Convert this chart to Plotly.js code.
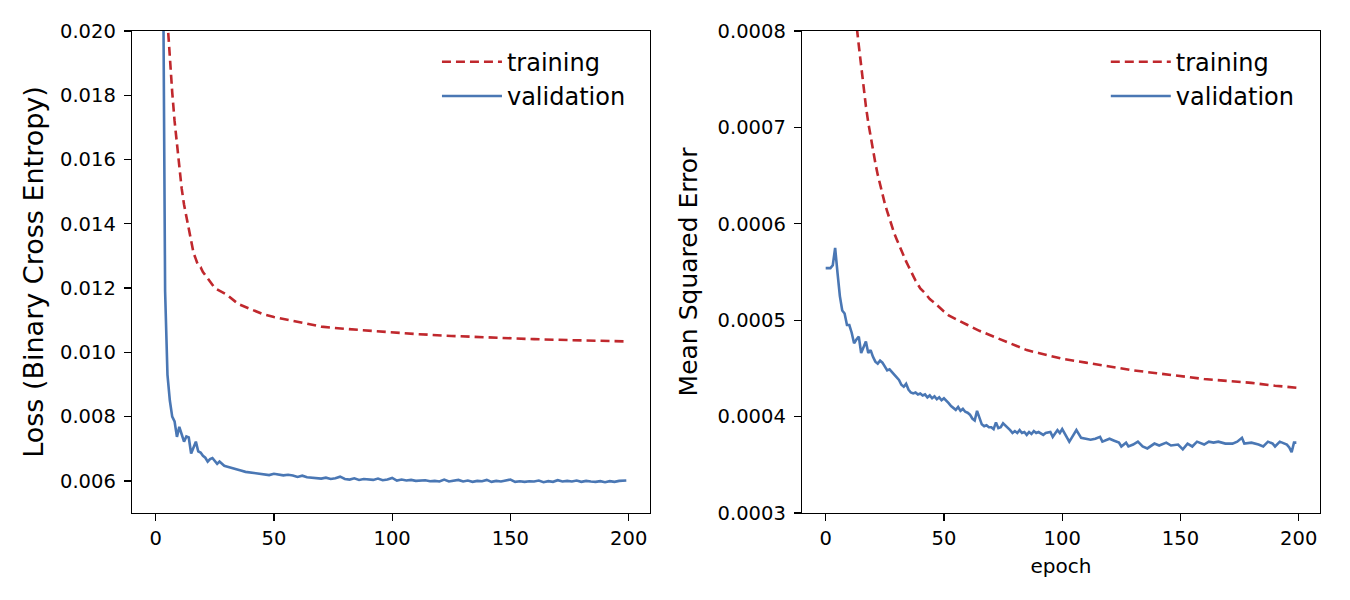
<!DOCTYPE html>
<html>
<head>
<meta charset="utf-8">
<script src="https://cdn.plot.ly/plotly-3.0.1.min.js"></script>
<style>
  body { margin: 0; background: #fff; }
  #chart { width: 1350px; height: 600px; }
</style>
</head>
<body>
<div id="chart"></div>
<script>
// Left panel: binary cross entropy loss per epoch
var lossEpochsTrain = [0,1,2,3,4,5,6,7,8,9,10,11,12,13,14,15,16,17,18,19,20,22,25,30,35,40,45,50,60,70,80,90,100,110,125,140,150,160,175,190,199];
var lossTrain = [0.05,0.035,0.028,0.024,0.0215,0.0203,0.0190,0.0181,0.0172,0.0165,0.0157,0.0151,0.0146,0.0142,0.0138,0.0134,0.0131,0.0129,0.0127,0.01265,0.0125,0.0123,0.0120,0.0118,0.0115,0.01135,0.0112,0.0111,0.01095,0.0108,0.01073,0.01067,0.01061,0.01057,0.01051,0.01046,0.01044,0.01041,0.01038,0.01035,0.01034];

var lossEpochsVal = [0,1,2,3,4,5,6,7,8,9,10,11,12,13,14,15,16,17,18,19,20,21,22,23,24,25,26,27,28,29,30,
  32,34,36,38,40,42,44,46,48,50,52,54,56,58,60,62,64,66,68,70,72,74,76,78,80,82,84,86,88,90,92,94,96,98,
  100,102,104,106,108,110,112,114,116,118,120,122,124,126,128,130,132,134,136,138,140,142,144,146,148,
  150,152,154,156,158,160,162,164,166,168,170,172,174,176,178,180,182,184,186,188,190,192,194,196,198,199];
var lossVal = [0.1,0.06,0.035,0.024,0.0119,0.0093,0.0085,0.0080,0.00785,0.00737,0.00768,0.00745,0.00722,0.00738,0.00735,0.00685,0.00705,0.00722,0.00692,0.00688,0.00678,0.00672,0.0066,0.00668,0.00671,0.0066,0.00653,0.0066,0.00652,0.00647,0.00645,
  0.0064,0.00635,0.00632,0.00628,0.00626,0.00624,0.00623,0.00621,0.00618,0.00622,0.0062,0.00617,0.00619,0.00617,0.00612,0.00616,0.00611,0.00609,0.00608,0.00607,0.0061,0.00606,0.00608,0.00613,0.00606,0.00604,0.00608,0.00603,0.00606,0.00604,0.00603,0.00607,0.00602,0.00604,
  0.00609,0.00601,0.00604,0.00601,0.00603,0.006,0.00601,0.00602,0.00599,0.006,0.00598,0.00604,0.00598,0.006,0.00603,0.00598,0.00601,0.00597,0.006,0.00599,0.00603,0.00597,0.006,0.00598,0.00601,
  0.00604,0.00597,0.00599,0.00597,0.00599,0.00598,0.00601,0.00596,0.00599,0.00597,0.00602,0.00598,0.006,0.00598,0.00601,0.00597,0.006,0.00598,0.00597,0.00599,0.00596,0.00599,0.00597,0.006,0.00601,0.00601];

// Right panel: mean squared error per epoch
var mseEpochsTrain = [0,1,2,3,4,5,6,7,8,9,10,11,12,13,14,15,16,17,18,19,20,21,22,23,24,25,26,27,28,29,30,31,32,33,34,35,36,37,38,39,40,42,44,46,48,50,52,55,60,65,70,75,80,85,90,95,100,110,120,130,140,150,160,170,180,190,199];
var mseTrain = [0.0025,0.0018,0.0015,0.0013,0.00118,0.00108,0.00101,0.00095,0.0009,0.00087,0.00084,0.00082,0.00081,0.000807,0.000785,0.000762,0.00074,0.000722,0.000705,0.00069,0.000676,0.000663,0.000651,0.00064,0.00063,0.000621,0.000613,0.000605,0.000597,0.00059,0.000584,0.000578,0.000572,0.000566,0.000561,0.000556,0.00055,0.000546,0.000541,0.000537,0.000533,0.000528,0.000522,0.000518,0.000513,0.000509,0.000505,0.000501,0.000495,0.000489,0.000484,0.000479,0.000474,0.000469,0.000466,0.000463,0.00046,0.000456,0.000452,0.000448,0.000445,0.000442,0.000439,0.000437,0.000435,0.000432,0.00043];

var mseEpochsVal = [0,1,2,3,4,5,6,7,8,9,10,11,12,13,14,15,16,17,18,19,20,21,22,23,24,25,26,27,28,29,30,31,32,33,34,35,36,37,38,39,40,41,42,43,44,45,46,47,48,49,50,
  51,52,53,54,55,56,57,58,59,60,61,62,63,64,65,66,67,68,69,70,71,72,73,74,75,76,77,78,79,80,81,82,83,84,85,86,87,88,89,90,92,93,95,96,98,99,
  100,101,102,103,104,106,108,110,112,114,116,117,119,120,122,124,125,127,128,130,132,134,136,139,141,144,146,149,151,153,155,157,160,162,164,166,169,172,174,176,177,180,183,185,187,189,190,192,195,196,197,198,199];
var mseVal = [0.000554,0.000554,0.000554,0.000557,0.000575,0.000549,0.000525,0.00051,0.000507,0.000495,0.000495,0.000487,0.000476,0.00048,0.000483,0.000466,0.000472,0.000478,0.000466,0.000469,0.000462,0.000457,0.000455,0.000458,0.000456,0.000452,0.000448,0.000449,0.000446,0.000443,0.000441,0.000438,0.000433,0.000431,0.000434,0.000428,0.000425,0.000424,0.000425,0.000423,0.000424,0.000422,0.000423,0.00042,0.000422,0.000419,0.000421,0.000418,0.00042,0.000417,0.000419,
  0.000417,0.000414,0.000411,0.000409,0.000407,0.00041,0.000406,0.000408,0.000405,0.000404,0.000402,0.000398,0.000396,0.000406,0.000398,0.000392,0.00039,0.000391,0.000389,0.000389,0.000387,0.000394,0.000388,0.000389,0.000393,0.000391,0.000388,0.000386,0.000383,0.000385,0.000383,0.000386,0.000383,0.000384,0.000381,0.000384,0.000382,0.000385,0.000383,0.000384,0.000381,0.000383,0.000384,0.000379,0.000386,0.000383,
  0.000387,0.000383,0.000379,0.000374,0.000378,0.000386,0.000378,0.000377,0.000376,0.000377,0.000379,0.000374,0.000376,0.000377,0.000375,0.000373,0.000369,0.000373,0.000369,0.000371,0.000374,0.000369,0.000367,0.000372,0.00037,0.000373,0.00037,0.000371,0.000366,0.000372,0.000369,0.000374,0.000371,0.000374,0.000373,0.000374,0.000372,0.000372,0.000374,0.000378,0.000372,0.000373,0.000371,0.000369,0.000374,0.000372,0.000369,0.000374,0.000371,0.000368,0.000363,0.000373,0.000373];

var lossTicks = [0.006,0.008,0.010,0.012,0.014,0.016,0.018,0.020];
var mseTicks = [0.0003,0.0004,0.0005,0.0006,0.0007,0.0008];
var epochTicks = [0,50,100,150,200];

var red = '#c0282d';
var blue = '#4a77b4';
var font = 'DejaVu Sans, sans-serif';

function trainTrace(x, y, xa, ya, leg) {
    return {
        x: x, y: y, xaxis: xa, yaxis: ya, legend: leg,
        mode: 'lines', name: 'training',
        line: { color: red, width: 2.6, dash: '9px,5px' }
    };
}

function valTrace(x, y, xa, ya, leg) {
    return {
        x: x, y: y, xaxis: xa, yaxis: ya, legend: leg,
        mode: 'lines', name: 'validation',
        line: { color: blue, width: 2.6 }
    };
}

var data = [
    trainTrace(lossEpochsTrain, lossTrain, 'x', 'y', 'legend'),
    valTrace(lossEpochsVal, lossVal, 'x', 'y', 'legend'),
    trainTrace(mseEpochsTrain, mseTrain, 'x2', 'y2', 'legend2'),
    valTrace(mseEpochsVal, mseVal, 'x2', 'y2', 'legend2')
];

function axisBase() {
    return {
        showgrid: false, zeroline: false,
        showline: true, linecolor: '#000', linewidth: 1.3, mirror: true,
        ticks: 'outside', ticklen: 7, tickwidth: 1.3, tickcolor: '#000',
        tickfont: { family: font, size: 19.5, color: '#000' }
    };
}

function xAxis(domain, anchor, title) {
    var a = axisBase();
    a.domain = domain;
    a.anchor = anchor;
    a.range = [-10, 209];
    a.tickvals = epochTicks;
    if (title) a.title = { text: title, font: { family: font, size: 20, color: '#000' }, standoff: 10 };
    return a;
}

function yAxis(anchor, range, ticks, fmt, title, size, standoff) {
    var a = axisBase();
    a.anchor = anchor;
    a.range = range;
    a.tickvals = ticks;
    a.tickformat = fmt;
    a.ticklabelstandoff = 4;
    a.title = { text: title, font: { family: font, size: size, color: '#000' }, standoff: standoff };
    return a;
}

function legendAt(x) {
    return {
        x: x, xanchor: 'right', y: 0.982, yanchor: 'top',
        bgcolor: 'rgba(0,0,0,0)', borderwidth: 0,
        font: { family: font, size: 24, color: '#000' },
        tracegroupgap: 0, itemwidth: 60
    };
}

var layout = {
    width: 1350, height: 600,
    margin: { l: 132, r: 30, t: 31, b: 87 },
    paper_bgcolor: '#fff', plot_bgcolor: '#fff',
    showlegend: true,
    xaxis: xAxis([0, 0.436], 'y'),
    yaxis: yAxis('x', [0.005, 0.020], lossTicks, '.3f', 'Loss (Binary Cross Entropy)', 27, 8),
    xaxis2: xAxis([0.564, 1], 'y2', 'epoch'),
    yaxis2: yAxis('x2', [0.0003, 0.0008], mseTicks, '.4f', 'Mean Squared Error', 25, 12),
    legend: legendAt(0.42),
    legend2: legendAt(0.983)
};

Plotly.newPlot('chart', data, layout, { staticPlot: true });
</script>
</body>
</html>
